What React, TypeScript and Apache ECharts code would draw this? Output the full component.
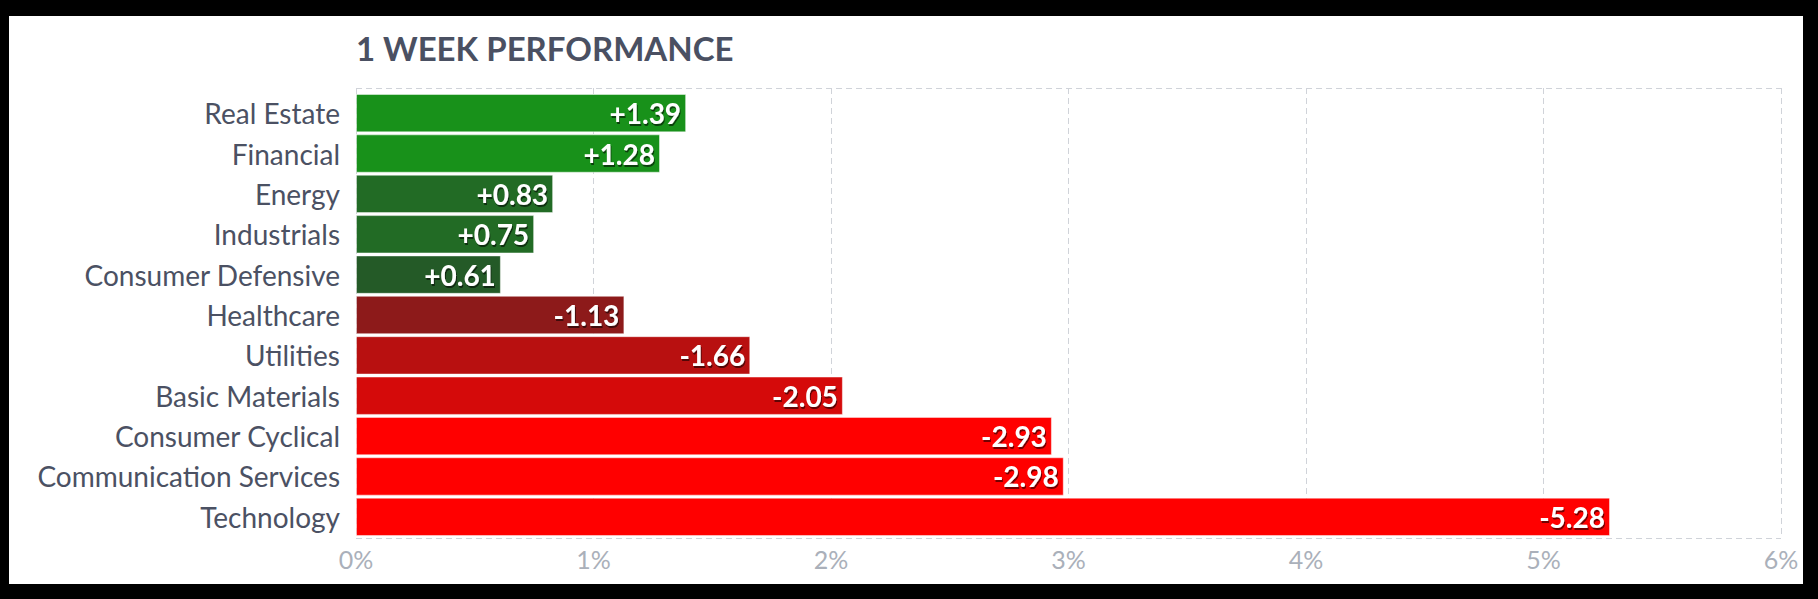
import React, { useEffect, useRef } from "react";
import * as echarts from "echarts";

const sectors = [
  "Real Estate",
  "Financial",
  "Energy",
  "Industrials",
  "Consumer Defensive",
  "Healthcare",
  "Utilities",
  "Basic Materials",
  "Consumer Cyclical",
  "Communication Services",
  "Technology",
];

const changes = [1.39, 1.28, 0.83, 0.75, 0.61, -1.13, -1.66, -2.05, -2.93, -2.98, -5.28];

const barColors = [
  "#18911a",
  "#18911a",
  "#226b25",
  "#226b25",
  "#245a27",
  "#8d1a1a",
  "#b81010",
  "#d50a0a",
  "#ff0000",
  "#ff0000",
  "#ff0000",
];

const axisMin = 0;
const axisMax = 6;
const axisStep = 1;

export default function App() {
  const ref = useRef<HTMLDivElement>(null);

  useEffect(() => {
    if (!ref.current) return;
    const chart = echarts.init(ref.current, undefined, { renderer: "svg" });
    const font = "Lato, 'Noto Sans', sans-serif";

    chart.setOption({
      animation: false,
      backgroundColor: "#ffffff",
      textStyle: { fontFamily: font },
      title: {
        text: "1 WEEK PERFORMANCE",
        left: 342,
        top: 10,
        textStyle: {
          fontFamily: font,
          fontSize: 33,
          fontWeight: "bold",
          color: "#4a5062",
        },
      },
      grid: [
        { left: 347, right: 22, top: 72, height: 450 },
        { left: 347, right: 22, top: 77, height: 444 },
      ],
      xAxis: [
        {
          gridIndex: 0,
          type: "value",
          min: axisMin,
          max: axisMax,
          interval: axisStep,
          axisLine: { show: false },
          axisTick: { show: false },
          axisLabel: {
            formatter: "{value}%",
            fontFamily: font,
            fontSize: 25,
            color: "#aab0ba",
            margin: 8,
          },
          splitLine: {
            show: true,
            lineStyle: { color: "#d0d3d9", type: [6, 4], width: 1 },
          },
        },
        {
          gridIndex: 1,
          type: "value",
          min: axisMin,
          max: axisMax,
          interval: axisStep,
          show: false,
          splitLine: { show: false },
        },
      ],
      yAxis: [
        {
          gridIndex: 0,
          type: "value",
          min: 0,
          max: 1,
          interval: 1,
          axisLine: { show: false },
          axisTick: { show: false },
          axisLabel: { show: false },
          splitLine: {
            show: true,
            lineStyle: { color: "#d0d3d9", type: [6, 4], width: 1 },
          },
        },
        {
          gridIndex: 1,
          type: "category",
          data: sectors,
          inverse: true,
          axisLine: { show: false },
          axisTick: { show: false },
          splitLine: { show: false },
          axisLabel: {
            fontFamily: font,
            fontSize: 28,
            color: "#4b5163",
            margin: 16,
          },
        },
      ],
      series: [
        {
          type: "bar",
          xAxisIndex: 1,
          yAxisIndex: 1,
          barCategoryGap: "5%",
          data: changes.map((v, i) => ({
            value: Math.abs(v),
            itemStyle: {
              color: barColors[i],
              borderColor: "rgba(255,255,255,0.45)",
              borderWidth: 1,
            },
          })),
          label: {
            show: true,
            position: "insideRight",
            distance: 5,
            formatter: (p: any) => {
              const v = changes[p.dataIndex];
              return (v > 0 ? "+" : "") + v.toFixed(2);
            },
            fontFamily: font,
            fontSize: 28,
            fontWeight: "bold",
            color: "#ffffff",
            textShadowColor: "rgba(0,0,0,0.55)",
            textShadowBlur: 1,
            textShadowOffsetX: 1,
            textShadowOffsetY: 2,
          },
        },
      ],
    });

    return () => chart.dispose();
  }, []);

  return (
    <div
      style={{
        position: "fixed",
        left: 0,
        top: 0,
        width: 1818,
        height: 599,
        background: "#000000",
      }}
    >
      <div
        ref={ref}
        style={{
          position: "absolute",
          left: 9,
          top: 16,
          width: 1794,
          height: 568,
          background: "#ffffff",
        }}
      />
    </div>
  );
}
